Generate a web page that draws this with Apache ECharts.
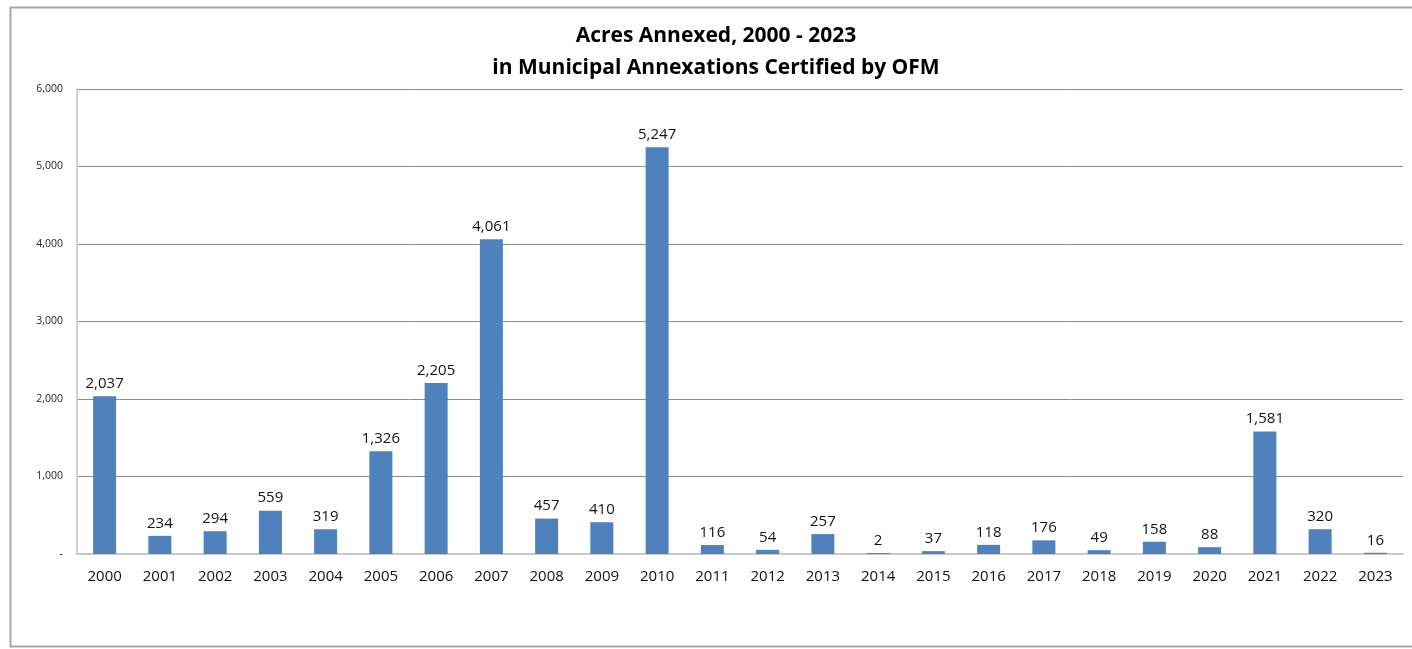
<!DOCTYPE html>
<html>
<head>
<meta charset="utf-8">
<script src="https://cdn.jsdelivr.net/npm/echarts@6/dist/echarts.min.js"></script>
<style>
html, body { margin: 0; padding: 0; background: #fff; }
#chart { width: 1412px; height: 649px; }
</style>
</head>
<body>
<div id="chart"></div>
<script>
var years = ['2000', '2001', '2002', '2003', '2004', '2005', '2006', '2007', '2008', '2009', '2010', '2011',
	'2012', '2013', '2014', '2015', '2016', '2017', '2018', '2019', '2020', '2021', '2022', '2023'];
var acres = [2037, 234, 294, 559, 319, 1326, 2205, 4061, 457, 410, 5247, 116,
	54, 257, 2, 37, 118, 176, 49, 158, 88, 1581, 320, 16];
var titleLines = ['Acres Annexed, 2000 - 2023', 'in Municipal Annexations Certified by OFM'];

var fmt = function (v) {
	return v === 0 ? '-' : v.toLocaleString('en-US');
};

var chart = echarts.init(document.getElementById('chart'));
var option = {
	animation: false,
	title: {
		text: titleLines.join('\n'),
		left: 711,
		textAlign: 'center',
		top: 15,
		textStyle: {
			fontFamily: 'Open Sans',
			fontSize: 21,
			fontWeight: 'bold',
			color: '#000',
			lineHeight: 32
		}
	},
	graphic: [{
		type: 'rect',
		shape: { x: 10.5, y: 7.5, width: 1420, height: 639 },
		style: { fill: 'none', stroke: '#a6a6a6', lineWidth: 2 },
		silent: true
	}],
	grid: {
		left: 77,
		right: 9,
		top: 89,
		bottom: 95
	},
	xAxis: {
		type: 'category',
		data: years,
		axisTick: { show: false },
		axisLine: { lineStyle: { color: '#c8c8c8', width: 2 } },
		axisLabel: {
			fontFamily: 'Open Sans',
			fontSize: 15,
			color: '#111',
			margin: 15
		}
	},
	yAxis: {
		type: 'value',
		min: 0,
		max: 6000,
		interval: 1000,
		axisLine: { show: true, lineStyle: { color: '#d0d0d0', width: 2 } },
		axisTick: { show: false },
		splitLine: { lineStyle: { color: '#8c8c8c', width: 1 } },
		axisLabel: {
			fontFamily: 'Open Sans',
			fontSize: 10.5,
			color: '#222',
			margin: 14,
			formatter: fmt
		}
	},
	series: [{
		type: 'bar',
		data: acres,
		barWidth: 23,
		barMinHeight: 1,
		itemStyle: { color: '#4f81bd' },
		label: {
			show: true,
			position: 'top',
			distance: 5,
			fontFamily: 'Open Sans',
			fontSize: 15,
			color: '#111',
			formatter: function (p) { return p.value.toLocaleString('en-US'); }
		}
	}]
};
chart.setOption(option);
</script>
</body>
</html>
